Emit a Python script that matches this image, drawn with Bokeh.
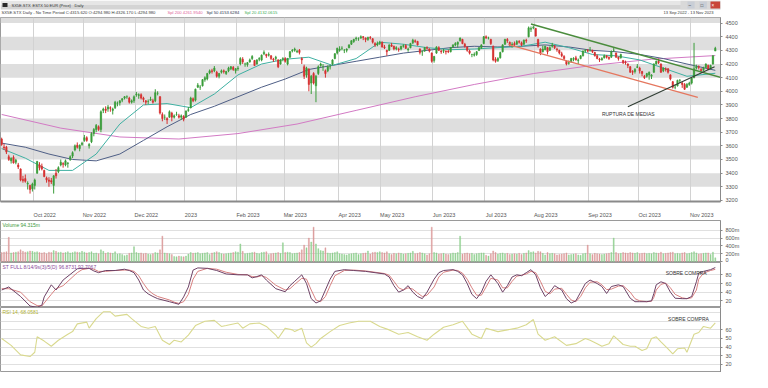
import pandas as pd
from bokeh.plotting import figure
from bokeh.models import Range1d, FixedTicker, Label, BoxAnnotation
from bokeh.layouts import column
from bokeh.embed import file_html
from bokeh.resources import INLINE

FONT = "Liberation Sans"

# ---------------- data ----------------
holidays = ["2022-12-26", "2023-04-07", "2023-04-10", "2023-05-01"]

opens = [
    3650,3590,3590,3520,3490,3515,3480,3460,3430,3355,3360,3320,3310,3285,
    3310,3400,3460,3450,3420,3365,3350,3345,3310,3400,3410,3460,3470,3460,3470,3500,3525,3570,3605,3580,3610,
    3640,3660,3600,3630,3690,3720,3740,3720,3860,3870,3870,3880,3860,3880,3910,3915,3935,3950,3960,3950,3920,3930,
    3975,3970,3975,3950,3930,3925,3935,3930,3930,3985,3960,3830,3810,3800,3810,3840,3810,3830,3820,3810,3815,
    3810,3860,3880,3945,3935,4030,4030,4040,4085,4090,4135,4150,4150,4140,4110,4140,4150,4130,4150,4165,4175,4150,
    4165,4200,4235,4200,4195,4215,4240,4225,4200,4235,4230,4275,4270,4265,4260,4235,4240,4230,4200,4235,
    4240,4200,4250,4295,4300,4290,4300,4240,4180,4120,4160,4060,4130,4040,4130,4190,4180,4150,4150,4180,4200,4240,4280,
    4300,4315,4300,4300,4320,4345,4365,4385,4385,4390,4400,4390,4380,4395,4385,4350,4340,4350,
    4360,4325,4300,4300,4340,4330,4310,4310,4310,4330,4335,4305,4320,4355,4370,4365,4310,4290,4295,4320,4310,4280,
    4225,4280,4320,4295,4295,4295,4295,4290,4325,4340,4345,4370,4380,4345,4325,4295,4270,4265,4270,4300,4320,4350,
    4400,4390,4380,4330,4235,4225,4245,4290,4345,4380,4360,4340,4350,4345,4365,4355,4345,4375,4400,4455,4465,
    4460,4380,4310,4290,4305,4320,4300,4330,4330,4310,4300,4275,4255,4220,4205,4215,4235,4245,4225,4240,4260,4295,4300,
    4300,4300,4285,4260,4235,4230,4245,4260,4250,4250,4300,4280,4250,4245,4225,4215,4200,4180,4145,4145,4175,
    4170,4145,4110,4110,4120,4110,4140,4200,4220,4200,4150,4165,4165,4120,4070,4030,4040,4080,4060,4050,4030,4050,
    4060,4100,4170,4180,4160,4155,4175,4190,4170,4200,4294.98,
]
highs = [
    3660,3615,3600,3535,3515,3530,3505,3475,3435,3380,3390,3340,3315,3330,
    3360,3490,3480,3470,3425,3375,3370,3365,3385,3430,3450,3500,3480,3500,3480,3530,3560,3610,3625,3610,3630,
    3680,3670,3620,3700,3730,3760,3750,3860,3880,3890,3900,3890,3880,3930,3925,3935,3950,3965,3970,3960,3940,3970,
    3995,3985,3985,3960,3935,3940,3960,3945,4015,4000,3965,3845,3830,3810,3860,3850,3830,3850,3835,3830,3825,
    3860,3885,3960,3955,4020,4060,4045,4090,4110,4135,4160,4165,4185,4150,4135,4160,4160,4150,4180,4185,4185,4170,
    4185,4250,4250,4210,4215,4240,4265,4230,4235,4250,4270,4300,4275,4285,4265,4245,4260,4235,4235,4250,
    4250,4245,4295,4310,4320,4305,4310,4250,4195,4180,4170,4120,4140,4120,4190,4210,4200,4160,4190,4195,4235,4280,4320,
    4330,4330,4310,4315,4345,4375,4385,4400,4395,4410,4405,4395,4400,4405,4390,4360,4365,4370,
    4365,4340,4305,4345,4355,4335,4330,4320,4335,4345,4345,4320,4355,4385,4380,4370,4315,4300,4325,4330,4315,4285,
    4260,4330,4330,4305,4310,4300,4305,4325,4345,4360,4365,4395,4385,4355,4330,4305,4275,4285,4295,4325,4345,4405,
    4410,4400,4385,4335,4250,4250,4290,4345,4385,4390,4365,4360,4365,4375,4375,4365,4380,4385,4475,4475,4480,
    4465,4385,4315,4335,4335,4325,4330,4355,4340,4320,4305,4290,4265,4225,4225,4245,4250,4260,4240,4265,4300,4310,4310,
    4325,4305,4290,4270,4245,4250,4270,4265,4255,4300,4320,4285,4255,4275,4230,4225,4205,4185,4155,4170,4200,
    4180,4150,4120,4135,4145,4125,4205,4225,4240,4205,4175,4175,4170,4125,4075,4050,4085,4090,4070,4060,4060,4070,
    4100,4355,4195,4190,4170,4180,4205,4195,4195,4265,4326.17,
]
lows = [
    3600,3570,3540,3490,3470,3470,3465,3430,3340,3330,3330,3280,3250,3265,
    3280,3395,3420,3420,3370,3330,3300,3320,3250,3360,3400,3450,3440,3450,3440,3490,3510,3560,3580,3560,3600,
    3630,3630,3580,3620,3670,3700,3710,3700,3840,3840,3850,3850,3830,3870,3890,3895,3920,3940,3945,3910,3910,3915,
    3960,3945,3940,3920,3900,3905,3930,3910,3920,3970,3830,3780,3790,3760,3805,3780,3800,3820,3800,3790,3780,
    3805,3850,3875,3920,3925,4025,4010,4035,4070,4080,4125,4130,4140,4100,4095,4130,4130,4120,4140,4155,4150,4130,
    4150,4190,4200,4180,4180,4210,4230,4185,4195,4220,4220,4265,4245,4255,4230,4215,4225,4170,4195,4220,
    4210,4190,4245,4285,4290,4280,4270,4200,4090,4100,4000,3980,4050,3920,4120,4180,4150,4100,4140,4160,4190,4235,4270,
    4290,4300,4280,4285,4315,4340,4355,4370,4370,4385,4375,4360,4370,4380,4350,4325,4330,4340,
    4320,4310,4260,4295,4325,4300,4300,4290,4300,4320,4310,4290,4315,4345,4355,4335,4270,4260,4290,4305,4285,4210,
    4210,4275,4295,4275,4280,4270,4280,4285,4320,4330,4320,4365,4345,4320,4290,4270,4250,4255,4260,4295,4310,4345,
    4385,4380,4340,4220,4210,4215,4240,4285,4340,4355,4330,4320,4330,4340,4350,4330,4340,4355,4395,4435,4455,
    4400,4320,4265,4285,4300,4270,4295,4320,4310,4290,4270,4250,4230,4190,4195,4210,4220,4225,4200,4235,4255,4285,4285,
    4290,4280,4255,4235,4215,4225,4240,4240,4230,4245,4290,4245,4225,4240,4200,4195,4170,4135,4120,4130,4170,
    4130,4110,4090,4100,4085,4090,4135,4195,4200,4135,4140,4145,4130,4080,4020,4015,4035,4060,4025,4010,4025,4040,
    4050,4095,4160,4160,4140,4150,4170,4155,4160,4195,4294.98,
]
closes = [
    3610,3585,3555,3500,3510,3475,3495,3445,3350,3345,3340,3325,3280,3320,
    3350,3485,3440,3430,3375,3350,3340,3335,3380,3380,3440,3480,3465,3490,3475,3520,3550,3600,3590,3605,3620,
    3660,3640,3610,3690,3720,3750,3720,3850,3870,3860,3885,3875,3870,3920,3910,3930,3945,3960,3960,3920,3930,3960,
    3980,3975,3950,3940,3920,3925,3940,3920,3990,3985,3840,3800,3810,3790,3850,3810,3820,3830,3810,3820,3795,
    3855,3865,3950,3930,4015,4045,4030,4085,4100,4130,4150,4145,4170,4110,4130,4150,4145,4145,4170,4180,4160,4165,
    4170,4240,4215,4200,4210,4230,4255,4190,4230,4240,4265,4285,4260,4270,4240,4230,4250,4180,4230,4240,
    4220,4240,4290,4300,4310,4295,4285,4230,4110,4170,4050,4110,4060,4110,4180,4200,4180,4130,4180,4180,4230,4275,4315,
    4310,4315,4300,4310,4340,4370,4380,4390,4385,4400,4395,4380,4395,4390,4360,4340,4350,4360,
    4325,4320,4290,4340,4330,4310,4320,4305,4330,4335,4315,4310,4350,4375,4365,4340,4285,4290,4320,4315,4295,4220,
    4255,4325,4300,4290,4300,4290,4290,4320,4340,4350,4360,4390,4350,4330,4300,4280,4270,4270,4290,4320,4340,4400,
    4390,4390,4350,4230,4220,4240,4285,4340,4380,4370,4340,4345,4340,4365,4360,4340,4375,4370,4465,4460,4470,
    4405,4330,4280,4310,4330,4290,4320,4340,4320,4305,4280,4260,4240,4200,4210,4240,4240,4230,4230,4260,4295,4300,4295,
    4300,4290,4260,4240,4230,4240,4260,4250,4240,4290,4300,4250,4240,4270,4210,4210,4190,4140,4140,4160,4180,
    4150,4130,4100,4130,4140,4120,4200,4220,4210,4140,4170,4160,4140,4090,4030,4030,4080,4080,4050,4015,4050,4060,
    4095,4165,4180,4175,4150,4170,4200,4160,4190,4260,4315.62,
]
volume_m = [
    230,240,250,620,220,230,240,250,300,260,240,250,270,260,
    240,250,230,220,230,200,240,230,280,260,230,240,220,230,250,220,230,250,240,230,260,
    240,220,230,250,210,220,200,300,260,210,230,220,210,250,190,200,180,150,170,210,220,380,
    230,210,220,200,210,190,180,200,230,220,300,650,220,210,200,180,130,120,140,130,120,
    140,190,230,210,220,230,200,210,220,230,180,220,230,250,230,200,190,200,210,220,230,250,
    240,450,260,200,210,220,230,240,210,200,230,240,250,180,200,210,220,230,210,480,
    230,240,230,200,210,220,230,300,420,350,600,500,880,450,330,280,270,350,220,210,220,230,250,
    200,190,180,170,190,200,210,220,180,200,210,220,270,190,230,240,230,250,
    230,220,250,200,180,210,200,220,210,190,200,210,220,260,200,210,230,220,200,170,200,880,
    230,220,190,200,210,190,180,200,220,210,230,650,190,210,220,200,210,180,200,210,220,220,
    160,140,200,270,230,190,210,220,200,210,180,190,200,190,210,180,210,220,280,240,250,
    220,260,250,210,170,230,200,210,200,170,180,190,200,220,170,180,190,200,170,160,200,210,420,
    200,180,210,200,190,180,190,200,210,230,600,230,200,210,230,220,210,230,220,210,230,
    200,210,220,200,210,200,230,220,210,240,200,210,220,230,240,200,210,200,220,230,200,210,
    230,250,220,190,200,210,220,220,180,240,94.315,
]

# moving averages (bar index, value)
sma20_idx = [0,10,20,30,40,50,60,70,80,90,100,110,120,130,140,150,160,170,180,190,200,210,220,230,240,250,260,270,280,290,302]
sma20 = [3580,3510,3420,3420,3540,3760,3900,3910,3880,3980,4120,4200,4235,4250,4190,4240,4360,4345,4320,4305,4310,4320,4330,4360,4320,4270,4260,4230,4170,4110,4132.06]
sma50_idx = [0,10,20,30,40,50,60,70,80,90,100,110,120,130,140,150,160,170,180,190,200,210,220,230,240,250,260,270,280,290,302]
sma50 = [3620,3590,3540,3500,3490,3540,3640,3740,3830,3890,3960,4030,4090,4160,4190,4220,4250,4280,4300,4320,4330,4325,4330,4340,4325,4300,4290,4270,4240,4200,4153.63]
sma200_idx = [0,25,50,75,100,125,150,175,200,225,250,275,302]
sma200 = [3830,3730,3665,3650,3690,3760,3860,3960,4050,4130,4190,4235,4261.95]

# stochastic (%K, %D) and RSI
stoch_idx = [0,3,8,12,15,17,18,21,23,26,32,34,37,39,41,44,48,52,54,56,58,60,62,64,66,71,73,75,77,79,
             81,83,87,91,95,100,104,106,108,110,112,116,120,122,124,127,129,131,133,135,137,139,141,145,149,154,158,162,164,166,
             168,170,172,174,176,178,180,183,185,187,191,193,195,197,199,201,203,205,207,210,212,214,216,218,220,222,224,226,228,230,
             232,234,237,239,241,243,245,247,249,252,254,256,258,261,263,266,268,270,273,275,276,277,279,281,283,285,288,290,292,294,
             295,297,300,302]
stoch_k = [45,52,30,8,5,10,29,57,45,68,94,95,95,89,85,90,90,93,90,85,68,45,36,30,25,18,15,12,29,52,
           91,96,95,90,82,80,80,73,76,80,68,48,41,55,65,80,60,25,15,20,45,70,88,92,90,88,85,82,75,55,
           40,45,55,40,30,25,40,70,85,90,92,88,80,60,35,25,40,65,80,60,40,55,75,80,78,85,92,80,50,30,
           40,55,45,25,15,20,40,60,68,60,53,37,53,57,53,26,18,18,18,20,37,57,64,60,40,26,25,25,30,64,
           84,88,92,96.87]
stoch_d = [48,48,40,18,9,8,15,35,48,55,85,92,95,93,88,88,90,91,91,88,78,60,45,36,30,22,17,14,18,35,
           70,88,95,93,86,81,80,76,75,78,74,56,45,48,58,72,70,45,22,18,30,55,78,90,91,89,86,83,79,65,
           50,45,50,47,38,30,33,52,75,86,91,90,84,70,50,33,33,52,72,68,50,50,65,77,79,82,88,85,65,42,
           36,47,49,35,22,18,30,50,63,64,57,46,47,54,55,40,25,20,18,19,28,45,58,61,50,35,27,25,27,45,
           70,84,90,92.71]
rsi_idx = [0,4,8,12,14,15,18,21,24,28,30,32,36,37,40,43,46,48,53,55,59,62,65,68,71,73,76,79,82,86,
           90,93,95,100,102,105,109,112,116,117,120,123,124,127,129,131,133,135,139,143,147,151,156,160,164,168,172,176,180,183,
           187,191,195,199,203,205,210,214,218,222,225,227,230,234,239,243,247,249,252,254,257,259,261,263,266,268,271,273,275,277,
           279,282,284,286,289,290,293,295,297,300,302]
rsi = [50,42,31,29,34,52,47,41,48,55,58,67,69,62,73,81,81,76,78,73,64,62,64,48,43,48,46,54,65,70,
       71,64,65,68,62,67,68,64,54,50,62,60,58,62,45,40,44,50,58,65,68,70,70,64,60,55,57,52,48,55,
       63,66,70,55,50,62,58,60,62,66,72,55,48,52,42,44,50,48,44,41,44,53,48,43,41,41,36,38,50,52,
       46,38,32,38,39,34,55,57,64,62,68.06]

month_labels = ["Oct 2022", "Nov 2022", "Dec 2022", "2023", "Feb 2023", "Mar 2023", "Apr 2023",
                "May 2023", "Jun 2023", "Jul 2023", "Aug 2023", "Sep 2023", "Oct 2023", "Nov 2023"]
price_ticks = [3200, 3300, 3400, 3500, 3600, 3700, 3800, 3900, 4000, 4100, 4200, 4300, 4400, 4500]
band_lo = [3300, 3500, 3700, 3900, 4100, 4300, 4500]
band_hi = [3400, 3600, 3800, 4000, 4200, 4400, None]

# drawn trend lines (bar index, price)
green_line_x = [224, 305]
green_line_y = [4493, 4098]
red_line_x = [214.5, 294.6]
red_line_y = [4343, 3955]
break_line_x = [265, 301.7]
break_line_y = [3887, 4180]

# ---------------- derived ----------------
n = len(closes)
dates = [d for d in pd.bdate_range("2022-09-13", "2023-11-20") if d.strftime("%Y-%m-%d") not in holidays][:n]
idx = list(range(n))
month_pos = [i - 0.5 for i in range(1, n) if dates[i].month != dates[i - 1].month]

up = [c >= o for o, c in zip(opens, closes)]
c_col = ["#3a9d3a" if u else "#d63030" for u in up]
v_col = ["#8fd08f" if u else "#dc9a9a" for u in up]
body_top = [max(o, c) for o, c in zip(opens, closes)]
body_bot = [min(o, c) for o, c in zip(opens, closes)]

W = 752
RB = 32
FW = W - RB
X0, X1 = -0.5, 304.2
xr = Range1d(X0, X1)
PXBAR = FW / (X1 - X0)


def panel(h, y0, y1, xaxis=False):
    p = figure(width=W, height=h, x_range=xr, y_range=Range1d(y0, y1), output_backend="svg",
               toolbar_location=None, y_axis_location="right",
               x_axis_location="below" if xaxis else None,
               min_border_left=0, min_border_right=RB, min_border_top=0, min_border_bottom=0)
    p.outline_line_color = "#9a9a9a"
    p.background_fill_color = "white"
    p.border_fill_color = "white"
    ax = p.yaxis[0]
    ax.axis_line_color = "#8a8a8a"
    ax.major_tick_line_color = "#8a8a8a"
    ax.major_tick_out = 2
    ax.major_tick_in = 0
    ax.minor_tick_line_color = None
    ax.major_label_text_font_size = "5.5px"
    ax.major_label_text_font = FONT
    ax.major_label_text_color = "#555555"
    ax.major_label_standoff = 3
    p.xgrid.grid_line_color = None
    p.ygrid.grid_line_color = "#e0e0e0"
    return p


def badge(p, y, text, bg, fg="white", dy=0):
    p.add_layout(Label(x=X1, y=y, x_offset=2, y_offset=dy, text=text, text_font=FONT,
                       text_font_size="5.5px", text_color=fg, text_baseline="middle",
                       text_align="left", background_fill_color=bg, padding=1))


def tag(p, x, y, text, color, size="5px", align="left", baseline="middle", xo=0, yo=0, bg=None, pad=0):
    p.add_layout(Label(x=x, y=y, x_offset=xo, y_offset=yo, text=text, text_font=FONT,
                       text_font_size=size, text_color=color, text_align=align,
                       text_baseline=baseline, background_fill_color=bg, padding=pad))


# ---------------- header (title bar + info line) ----------------
hd = figure(width=W, height=16, x_range=Range1d(0, FW), y_range=Range1d(16, 0), output_backend="svg",
            toolbar_location=None, x_axis_location=None, y_axis_location=None,
            min_border_left=0, min_border_right=RB, min_border_top=0, min_border_bottom=0)
hd.outline_line_color = None
hd.grid.visible = False
hd.background_fill_color = "white"
hd.border_fill_color = "white"
hd.quad(left=[0], right=[FW], top=[0], bottom=[4.5], fill_color="#e6e6e6", line_color=None)
hd.quad(left=[0], right=[FW], top=[4.5], bottom=[9], fill_color="#d4d4d4", line_color=None)
hd.quad(left=[2], right=[7], top=[2.5], bottom=[6.5], fill_color="#2b2b2b", line_color=None)
tag(hd, FW, 0, " " * 25, "#d9d9d9", size="7.4px", baseline="top", bg="#d9d9d9", xo=-40)
tag(hd, 11, 4.7, "SX5E.STX", "#333333", size="4px")
tag(hd, 32, 4.7, "ESTX 50 EUR (Price)", "#333333", size="4px")
tag(hd, 74, 4.7, "Daily", "#333333", size="4px")
tag(hd, FW, 4.6, " \u2013 ", "#333333", size="4.6px", bg="#c9ced6", pad=1, xo=-33)
tag(hd, FW, 4.6, " \u25a1 ", "#333333", size="4.6px", bg="#c9ced6", pad=1, xo=-21)
tag(hd, FW, 4.6, "  \u00d7  ", "#ffffff", size="4.6px", bg="#c8463a", pad=1, xo=-10)
tag(hd, 1, 12.4, "SX5E.STX Daily - No Time Period   C:4315.620 O:4294.980 H:4326.170 L:4294.980", "#3a3a3a", size="4.2px")
tag(hd, 167, 12.4, "Spl 200 4261.9540", "#e0609a", size="4.2px")
tag(hd, 206, 12.4, "Spl 50 4153.6284", "#2c3550", size="4.2px")
tag(hd, 244, 12.4, "Spl 20 4132.0615", "#3fae5a", size="4.2px")
tag(hd, FW, 12.4, "13 Sep 2022  -  13 Nov 2023", "#3a3a3a", size="4.1px", xo=-57)

# ---------------- price ----------------
pp = panel(204, 3192, 4541, xaxis=True)
pp.min_border_top = 1
pp.yaxis.ticker = FixedTicker(ticks=price_ticks)
pp.ygrid.grid_line_color = None
for lo, hi in zip(band_lo, band_hi):
    pp.add_layout(BoxAnnotation(bottom=lo, top=hi, fill_color="#dedede", fill_alpha=1.0,
                                line_color=None, level="image"))
pp.xgrid.ticker = FixedTicker(ticks=month_pos)
pp.xgrid.grid_line_color = "#d2d2d2"
pp.xgrid.grid_line_width = 1
pp.xgrid.level = "underlay"

label_pos = [m + (len(t) * 2.55 / 2 + 1) / PXBAR for m, t in zip(month_pos, month_labels)]
xa = pp.xaxis[0]
xa.ticker = FixedTicker(ticks=label_pos)
xa.major_label_overrides = {float(p_): t for p_, t in zip(label_pos, month_labels)}
xa.major_tick_line_color = None
xa.minor_tick_line_color = None
xa.axis_line_color = "#8a8a8a"
xa.axis_line_width = 2
xa.major_label_text_font_size = "5.5px"
xa.major_label_text_font = FONT
xa.major_label_text_color = "#555555"
xa.major_label_standoff = 4

pp.line(sma200_idx, sma200, line_color="#d27ac4", line_width=1)
pp.line(sma50_idx, sma50, line_color="#4f5f86", line_width=1)
pp.line(sma20_idx, sma20, line_color="#3fb0a2", line_width=1)

pp.segment(x0=idx, y0=lows, x1=idx, y1=highs, line_color=c_col, line_width=1)
pp.vbar(x=idx, top=body_top, bottom=body_bot, width=0.62, fill_color=c_col, line_color=c_col, line_width=0.5)

pp.line(green_line_x, green_line_y, line_color="#4a8c3c", line_width=1.6)
pp.line(red_line_x, red_line_y, line_color="#e5775f", line_width=1.3)
pp.line(break_line_x, break_line_y, line_color="#2f3d33", line_width=1.1)
tag(pp, 254, 3833, "RUPTURA DE MEDIAS", "#333333", size="5px")

badge(pp, closes[-1], "4315.62", "#1f3a63")
badge(pp, sma200[-1], "4261.9540", "#e2479a")
badge(pp, sma50[-1], "4153.6284", "#1f3a63", dy=2)
badge(pp, sma20[-1], "4132.0615", "#2fb0a8", dy=-2)

# ---------------- volume ----------------
pv = panel(42, -25, 1050)
pv.yaxis.ticker = FixedTicker(ticks=[0, 200, 400, 600, 800])
pv.yaxis.major_label_overrides = {0: "0", 200: "200m", 400: "400m", 600: "600m", 800: "800m"}
pv.ygrid.ticker = FixedTicker(ticks=[200, 400, 600, 800])
pv.vbar(x=idx, top=volume_m, bottom=0, width=0.42, fill_color=v_col, line_color=v_col, line_width=0.4)
tag(pv, X0, 1050, "Volume   94.315m", "#3d9a3d", size="5px", baseline="top", xo=2, yo=-1)
badge(pv, volume_m[-1], "94.315m", "#2f8f2f", dy=3)

# ---------------- stochastic ----------------
ps = panel(45, 4.6, 108.5)
ps.yaxis.ticker = FixedTicker(ticks=[20, 40, 60, 80])
ps.ygrid.ticker = FixedTicker(ticks=[20, 40, 60, 80])
ps.line(stoch_idx, stoch_d, line_color="#d88080", line_width=1)
ps.line(stoch_idx, stoch_k, line_color="#6e4266", line_width=1)
tag(ps, X0, 108.5, "ST FULL 8/14/9s(3)/5(D)  96.8731  92.7067", "#8a4a9a", size="5px", baseline="top", xo=2, yo=-1)
tag(ps, 281, 85, "SOBRE COMPRA", "#333333", size="5px")
badge(ps, stoch_k[-1], "92.7067", "#e8665a", dy=2)

# ---------------- RSI ----------------
pr = panel(65, 10.5, 86)
pr.yaxis.ticker = FixedTicker(ticks=[20, 30, 40, 50, 60])
pr.ygrid.ticker = FixedTicker(ticks=[20, 30, 40, 50, 60, 70, 80])
pr.line(rsi_idx, rsi, line_color="#d9d98e", line_width=1.1)
tag(pr, X0, 86, "RSI 14,  68.0581", "#b3b335", size="5px", baseline="top", xo=2, yo=-1)
tag(pr, 282, 73, "SOBRE COMPRA", "#333333", size="5px")
badge(pr, rsi[-1], "68.0581", "#c9c93a")

layout = column(hd, pp, pv, ps, pr, spacing=0)
open("out.html", "w").write(file_html(layout, INLINE))
